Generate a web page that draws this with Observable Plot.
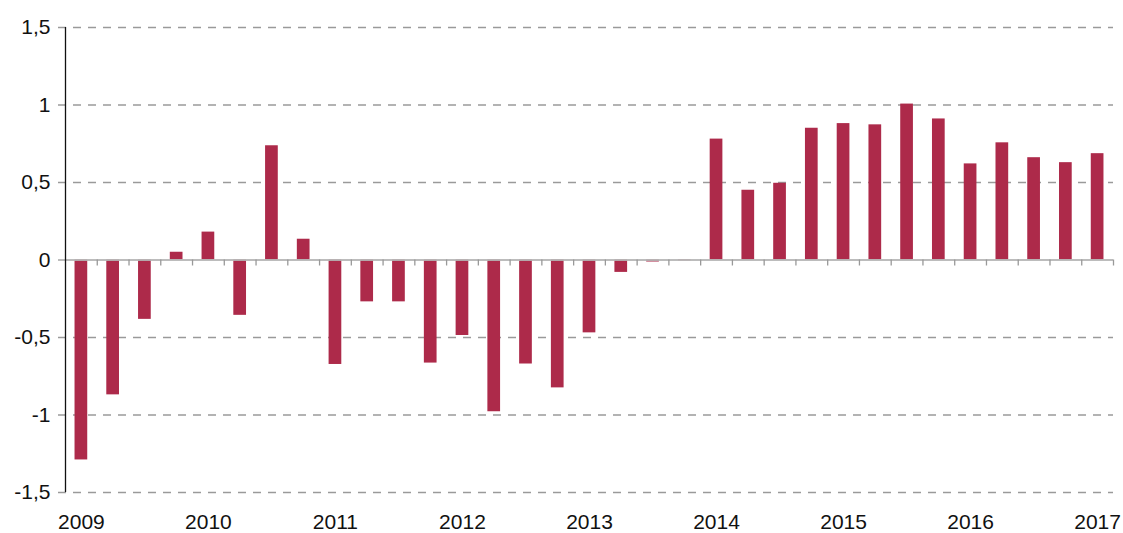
<!DOCTYPE html>
<html>
<head>
<meta charset="utf-8">
<script src="https://cdn.jsdelivr.net/npm/d3@7"></script>
<script src="https://cdn.jsdelivr.net/npm/@observablehq/plot@0.6"></script>
<style>
  html, body { margin: 0; padding: 0; background: #fff; }
  #chart svg { display: block; }
</style>
</head>
<body>
<div id="chart"></div>
<script>
const years = [2009, 2010, 2011, 2012, 2013, 2014, 2015, 2016, 2017];
const quarterNames = ["Q1", "Q2", "Q3", "Q4"];
const values = [
  -1.29, -0.87, -0.383, 0.05,
  0.18, -0.357, 0.737, 0.134,
  -0.674, -0.27, -0.27, -0.665,
  -0.487, -0.979, -0.671, -0.825,
  -0.47, -0.08, -0.013, -0.005,
  0.78, 0.45, 0.495, 0.85,
  0.88, 0.872, 1.006, 0.91,
  0.62, 0.756, 0.66, 0.628,
  0.686
];
const yTicks = [-1.5, -1, -0.5, 0, 0.5, 1, 1.5];

const quarters = [];
years.forEach(y => quarterNames.forEach(q => quarters.push(`${y}-${q}`)));
const data = values.map((v, i) => ({ q: quarters[i], v }));
const domainQ = data.map(d => d.q);

const W = 1123, H = 533;
const mL = 65, mR = 10, mT = 27, mB = 41;
const bw = (W - mL - mR) / domainQ.length;

const fmt = d => String(d).replace(".", ",");

const chart = Plot.plot({
  width: W,
  height: H,
  marginLeft: mL,
  marginRight: mR,
  marginTop: mT,
  marginBottom: mB,
  style: { fontFamily: "'Liberation Sans', Arial, sans-serif", fontSize: "21px", color: "#111", background: "#fff" },
  x: { type: "band", domain: domainQ, padding: 0.6, paddingOuter: 0.3, round: false, label: null },
  y: { domain: [-1.5, 1.5], label: null },
  marks: [
    Plot.ruleY(yTicks.filter(t => t !== 0), { y: d => d, stroke: "#9a9a9a", strokeWidth: 1.3, strokeDasharray: "8,7", insetLeft: -7 }),
    Plot.barY(data, { x: "q", y: "v", fill: "#AD2A4A" }),
    Plot.ruleY([0], { stroke: "#b5b5b5", strokeWidth: 2, strokeOpacity: 0.9, insetLeft: -7 }),
    Plot.ruleX(data, { x: "q", y1: 0, y2: 0, dx: bw / 2, insetBottom: -6, stroke: "#999", strokeWidth: 1.3 }),
    Plot.ruleX([domainQ[0]], { x: d => d, y1: -1.5, y2: 1.5, dx: -bw / 2, stroke: "#111", strokeWidth: 1.3 }),
    Plot.axisY({ ticks: yTicks, tickFormat: fmt, tickSize: 0, tickPadding: 15, fontSize: 21, label: null }),
    Plot.axisX({ ticks: domainQ.filter(q => q.endsWith("Q1")), tickFormat: q => q.slice(0, 4), tickSize: 0, tickPadding: 22, fontSize: 21, label: null })
  ]
});
document.getElementById("chart").appendChild(chart);
</script>
</body>
</html>
